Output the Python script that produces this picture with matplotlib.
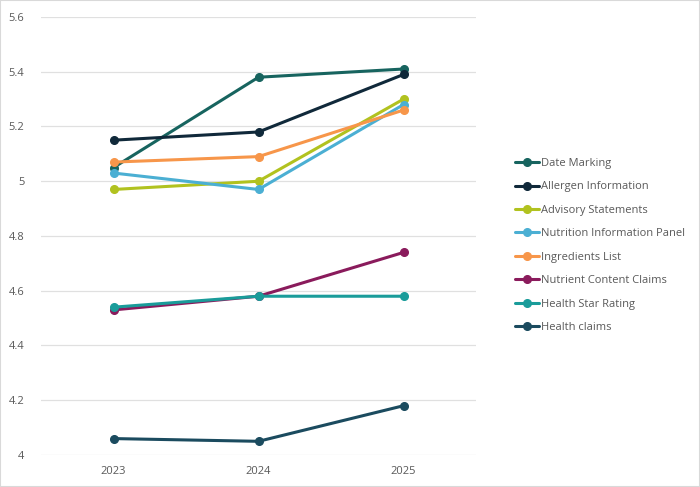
import matplotlib
matplotlib.use("Agg")
import matplotlib.pyplot as plt
from matplotlib.patches import Rectangle

years = ["2023", "2024", "2025"]
series_names = ["Date Marking", "Allergen Information", "Advisory Statements",
                "Nutrition Information Panel", "Ingredients List",
                "Nutrient Content Claims", "Health Star Rating", "Health claims"]
date_marking = [5.05, 5.38, 5.41]
allergen_info = [5.15, 5.18, 5.39]
advisory = [4.97, 5.00, 5.30]
nip = [5.03, 4.97, 5.28]
ingredients = [5.07, 5.09, 5.26]
nutrient_claims = [4.53, 4.58, 4.74]
health_star = [4.54, 4.58, 4.58]
health_claims = [4.06, 4.05, 4.18]
colors = ["#17645f", "#10293a", "#b1c21f", "#4bafd3", "#f7964a",
          "#8a1b5c", "#1a9c9a", "#1b4b5f"]
values = [date_marking, allergen_info, advisory, nip, ingredients,
          nutrient_claims, health_star, health_claims]

plt.rcParams['font.family'] = ['Open Sans', 'DejaVu Sans']
fig = plt.figure(figsize=(7.0, 4.87), dpi=100)
ax = fig.add_axes([41/700, 32/487, 435/700, 438/487])

x = list(range(len(years)))
handles = []
for name, vals, c in zip(series_names, values, colors):
    h, = ax.plot(x, vals, color=c, lw=2.2, marker='o', ms=5.5, label=name,
                 solid_capstyle='round')
    handles.append(h)

ax.set_xlim(-0.5, 2.5)
ax.set_ylim(4, 5.6)
ax.set_xticks(x)
ax.set_xticklabels(years)
yt = [4, 4.2, 4.4, 4.6, 4.8, 5, 5.2, 5.4, 5.6]
ax.set_yticks(yt)
ax.set_yticklabels([f"{v:g}" for v in yt])
ax.tick_params(axis='both', length=0, labelsize=8, colors='#595959')
ax.tick_params(axis='y', pad=12)
ax.tick_params(axis='x', pad=8)
ax.grid(axis='y', color='#e0e0e0', lw=0.9)
ax.set_axisbelow(True)
for s in ax.spines.values():
    s.set_visible(False)

leg = fig.legend(handles=handles, loc='upper left',
                 bbox_to_anchor=(505/700, 1 - 148/487), frameon=False,
                 fontsize=8, labelcolor='#595959', handlelength=2.2,
                 handletextpad=0.1, labelspacing=1.12)

fig.patches.append(Rectangle((0, 0), 1, 1, transform=fig.transFigure,
                             fill=False, edgecolor='#d9d9d9', lw=1.5))
fig.savefig("out.png", dpi=100)
